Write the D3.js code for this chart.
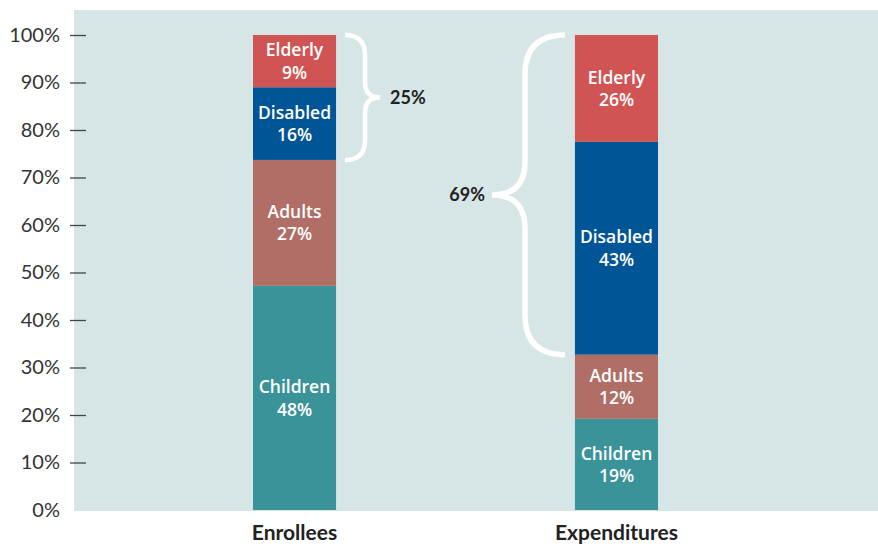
<!DOCTYPE html>
<html><head><meta charset="utf-8">
<script src="https://cdn.jsdelivr.net/npm/d3@7"></script>
<style>body{margin:0;background:#fff}svg{display:block}</style>
</head><body><svg id="c" width="878" height="544"></svg>
<script>
const groups = ["Enrollees", "Expenditures"];
const segments = ["Children", "Adults", "Disabled", "Elderly"];
// drawn segment heights (% of total)
const enrolleesShares = [47.2, 26.5, 15.3, 11.0];
const expendituresShares = [19.2, 13.5, 44.8, 22.5];
// printed labels
const enrolleesLabels = [48, 27, 16, 9];
const expendituresLabels = [19, 12, 43, 26];
const braceLabels = ["25%", "69%"];
const yTicks = [0, 10, 20, 30, 40, 50, 60, 70, 80, 90, 100];
const colors = {Children:"#3a9399", Adults:"#b06e66", Disabled:"#005596", Elderly:"#d05453"};

const svg = d3.select("#c");
const y = d3.scaleLinear().domain([0,100]).range([510,35]);
const x = d3.scaleBand().domain(groups).range([253,658]).paddingInner(0.742).paddingOuter(0);

svg.append("rect").attr("x",74).attr("y",10).attr("width",804).attr("height",501).attr("fill","#d6e5e5");

// y axis
const yg = svg.append("g").attr("transform","translate(86,0)")
  .call(d3.axisLeft(y).tickValues(yTicks).tickFormat(d=>d+"%").tickSize(16).tickPadding(10));
yg.select(".domain").remove();
yg.selectAll(".tick line").attr("stroke","#444").attr("stroke-width",1.3).filter(d=>d===0).remove();
yg.selectAll(".tick text").attr("font-family","Lato").attr("font-size",20).attr("fill","#333");

const data = [
  {g:"Enrollees", shares:enrolleesShares, labels:enrolleesLabels},
  {g:"Expenditures", shares:expendituresShares, labels:expendituresLabels}
];

data.forEach(d=>{
  let cum = 0;
  const bw = x.bandwidth();
  segments.forEach((s,i)=>{
    const y0 = cum, y1 = cum + d.shares[i];
    cum = y1;
    svg.append("rect").attr("x",x(d.g)).attr("width",bw)
      .attr("y",y(y1)).attr("height",y(y0)-y(y1)).attr("fill",colors[s]);
    const cy = (y(y0)+y(y1))/2;
    const t = svg.append("text").attr("x",x(d.g)+bw/2).attr("text-anchor","middle")
      .attr("font-family","Open Sans").attr("font-weight",600).attr("font-size",17.5).attr("fill","#fff");
    t.append("tspan").attr("x",x(d.g)+bw/2).attr("y",cy-11).attr("dy","0.35em").text(s);
    t.append("tspan").attr("x",x(d.g)+bw/2).attr("y",cy+11.5).attr("dy","0.35em").text(d.labels[i]+"%");
  });
  svg.append("text").attr("x",x(d.g)+bw/2).attr("y",539.5).attr("text-anchor","middle")
    .attr("font-family","Lato").attr("font-weight","bold").attr("font-size",21).attr("fill","#222").text(d.g);
});

function brace(x0, xv, xt, y0, y1, ym){
  const r = Math.abs(xv - x0);
  const r2 = Math.abs(xt - xv);
  return `M${x0},${y0} Q${xv},${y0} ${xv},${y0+r} L${xv},${ym-r2} Q${xv},${ym} ${xt},${ym} Q${xv},${ym} ${xv},${ym+r2} L${xv},${y1-r} Q${xv},${y1} ${x0},${y1}`;
}
const bw = x.bandwidth();
// Enrollees brace (Disabled + Elderly), pointing right
const e0 = 100 - enrolleesShares[2] - enrolleesShares[3];
const eTop = y(100), eBot = y(e0);
const exR = x("Enrollees")+bw;
svg.append("path").attr("d",brace(exR+9, exR+29, exR+44, eTop, eBot, (eTop+eBot)/2))
  .attr("fill","none").attr("stroke","#fff").attr("stroke-width",4.5);
svg.append("text").attr("x",exR+54).attr("y",(eTop+eBot)/2).attr("dy","0.35em")
  .attr("font-family","Lato").attr("font-weight","bold").attr("font-size",18).attr("fill","#222").text(braceLabels[0]);

// Expenditures brace, pointing left
const p0 = 100 - expendituresShares[2] - expendituresShares[3];
const pTop = y(100), pBot = y(p0);
const pxL = x("Expenditures");
svg.append("path").attr("d",brace(pxL-10, pxL-50, pxL-83, pTop, pBot, 195))
  .attr("fill","none").attr("stroke","#fff").attr("stroke-width",5.5);
svg.append("text").attr("x",pxL-90).attr("y",195).attr("dy","0.35em").attr("text-anchor","end")
  .attr("font-family","Lato").attr("font-weight","bold").attr("font-size",18).attr("fill","#222").text(braceLabels[1]);
</script></body></html>
